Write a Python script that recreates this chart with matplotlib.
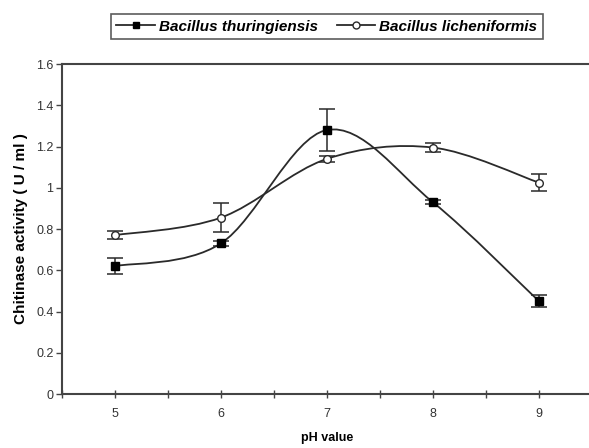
import numpy as np
import matplotlib
matplotlib.use("Agg")
import matplotlib.pyplot as plt
from matplotlib.path import Path
from matplotlib.patches import PathPatch
from matplotlib.lines import Line2D

plt.rcParams['font.family'] = ['Liberation Sans', 'DejaVu Sans']

# data
ph = [5, 6, 7, 8, 9]
thur = [0.62, 0.73, 1.28, 0.93, 0.45]
thur_err = [0.04, 0.01, 0.10, 0.01, 0.03]
lich = [0.77, 0.855, 1.14, 1.195, 1.025]
lich_err = [0.02, 0.07, 0.015, 0.02, 0.04]
yticks = [0, 0.2, 0.4, 0.6, 0.8, 1, 1.2, 1.4, 1.6]
ytick_labels = ["0", "0.2", "0.4", "0.6", "0.8", "1", "1.2", "1.4", "1.6"]

line_col = "#2a2a2a"
axis_col = "#444444"


def smooth_path(xs, ys):
    # Excel-like smoothed line: Bezier segments with Catmull-Rom control points
    pts = np.column_stack([xs, ys]).astype(float)
    n = len(pts)
    verts = [pts[0]]
    codes = [Path.MOVETO]
    for i in range(n - 1):
        p_prev = pts[i - 1] if i > 0 else pts[i]
        p_next2 = pts[i + 2] if i + 2 < n else pts[i + 1]
        c1 = pts[i] + (pts[i + 1] - p_prev) / 6.0
        c2 = pts[i + 1] - (p_next2 - pts[i]) / 6.0
        verts += [c1, c2, pts[i + 1]]
        codes += [Path.CURVE4] * 3
    return Path(verts, codes)


fig = plt.figure(figsize=(5.89, 4.48), dpi=100)
ax = fig.add_axes([0.1048, 0.1205, 0.9002, 0.7366])

for ys in (thur, lich):
    ax.add_patch(PathPatch(smooth_path(ph, ys), facecolor="none",
                           edgecolor=line_col, lw=1.3, zorder=2))

ax.errorbar(ph, thur, yerr=thur_err, fmt="none", ecolor=line_col,
            elinewidth=1.1, capsize=5.5, capthick=1.1, zorder=3)
ax.errorbar(ph, lich, yerr=lich_err, fmt="none", ecolor=line_col,
            elinewidth=1.1, capsize=5.5, capthick=1.1, zorder=3)
ax.plot(ph, thur, ls="none", marker="s", ms=5.5, mfc="black",
        mec="black", zorder=4)
ax.plot(ph, lich, ls="none", marker="o", ms=5.5, mfc="white",
        mec=line_col, mew=1.0, zorder=4)

ax.set_xlim(4.5, 9.5)
ax.set_ylim(0, 1.6)
ax.set_xticks(ph)
ax.set_xticks([4.5, 5.5, 6.5, 7.5, 8.5, 9.5], minor=True)
ax.set_yticks(yticks)
ax.set_yticklabels(ytick_labels)
ax.tick_params(axis="x", which="both", direction="inout", length=6,
               width=1.0, color=axis_col, labelsize=9, labelcolor="#333333",
               pad=7)
ax.tick_params(axis="y", direction="out", length=4, width=1.0,
               color=axis_col, labelsize=9, labelcolor="#333333", pad=2)

for side in ("left", "bottom", "top"):
    ax.spines[side].set_color(axis_col)
    ax.spines[side].set_linewidth(1.5)
ax.spines["right"].set_visible(False)

ax.set_xlabel("pH value", fontsize=9, fontweight="bold", labelpad=9)
ax.set_ylabel("Chitinase activity ( U / ml )", fontsize=11,
              fontweight="bold", labelpad=6)

handles = [
    Line2D([], [], color=line_col, lw=1.3, marker="s", ms=5, mfc="black",
           mec="black"),
    Line2D([], [], color=line_col, lw=1.3, marker="o", ms=5, mfc="white",
           mec=line_col),
]
leg = fig.legend(handles, ["Bacillus thuringiensis", "Bacillus licheniformis"],
                 loc="upper center", bbox_to_anchor=(0.555, 0.985), ncol=2,
                 frameon=True, fancybox=False, edgecolor="#333333",
                 handlelength=2.5, handletextpad=0.3, columnspacing=1.2,
                 borderpad=0.35,
                 prop={"size": 11, "weight": "bold", "style": "italic"})
leg.get_frame().set_linewidth(1.2)

fig.savefig("out.png", dpi=100)
